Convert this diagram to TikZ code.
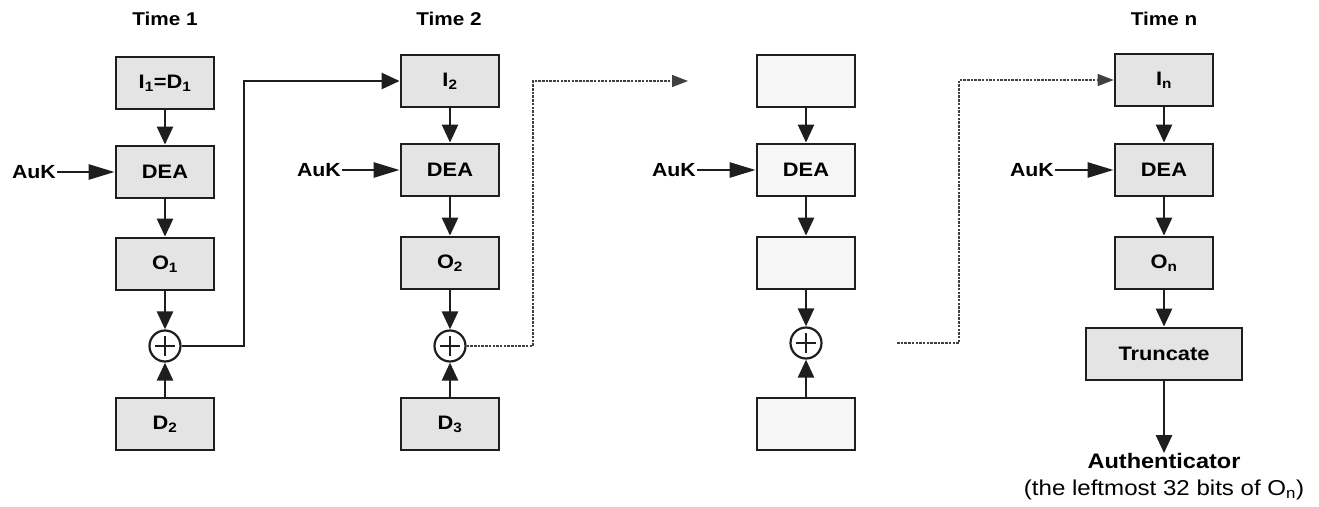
\documentclass[tikz,border=0pt]{standalone}
\usepackage{fontspec}
\setmainfont{Liberation Sans}[FakeStretch=1.12]
\usetikzlibrary{arrows.meta}
\definecolor{boxfill}{HTML}{E4E4E4}
\definecolor{lightfill}{HTML}{F6F6F6}
\definecolor{ink}{HTML}{1E1E1E}
\begin{document}
\begin{tikzpicture}[x=1pt,y=-1pt,
  blk/.style={draw=ink, line width=2.8pt, fill=boxfill, minimum width=98pt, minimum height=52pt,
    inner sep=0pt, font=\bfseries\fontsize{19.5}{22}\selectfont},
  lblk/.style={blk, fill=lightfill},
  xorn/.style={circle, draw=ink, line width=2.2pt, minimum size=31pt, inner sep=0pt,
    path picture={
      \draw[line width=2pt] ([xshift=-10pt]path picture bounding box.center) -- ([xshift=10pt]path picture bounding box.center);
      \draw[line width=2pt] ([yshift=-10pt]path picture bounding box.center) -- ([yshift=10pt]path picture bounding box.center);}},
  arr/.style={draw=ink, line width=2.6pt, -{Triangle[length=18pt,width=16pt]}},
  karr/.style={draw=ink, line width=2.6pt, -{Triangle[length=26pt,width=15pt]}},
  dline/.style={draw=ink!85, line width=1.5pt, dash pattern=on 2.5pt off 1.2pt},
  tlabel/.style={font=\bfseries\fontsize{18.5}{21}\selectfont},
  klabel/.style={font=\bfseries\fontsize{19}{21}\selectfont, inner sep=1pt, anchor=east}
]
\useasboundingbox (0,0) rectangle (1319,506);

% Time labels
\node[tlabel] (t1) at (165,19) {Time 1};
\node[tlabel] (t2) at (449,19) {Time 2};
\node[tlabel] (tn) at (1164,19) {Time n};

% Column 1
\node[blk] (i1) at (165,83) {I\textsubscript{1}=D\textsubscript{1}};
\node[blk] (d1) at (165,172) {DEA};
\node[blk] (o1) at (165,264) {O\textsubscript{1}};
\node[xorn] (x1) at (165,346) {};
\node[blk] (dd2) at (165,424) {D\textsubscript{2}};
\node[klabel] (k1) at (57,172) {AuK};

% Column 2
\node[blk] (i2) at (450,81) {I\textsubscript{2}};
\node[blk] (d2) at (450,170) {DEA};
\node[blk] (o2) at (450,263) {O\textsubscript{2}};
\node[xorn] (x2) at (450,346) {};
\node[blk] (dd3) at (450,424) {D\textsubscript{3}};
\node[klabel] (k2) at (342,170) {AuK};

% Column 3
\node[lblk] (i3) at (806,81) {};
\node[lblk] (d3) at (806,170) {DEA};
\node[lblk] (o3) at (806,263) {};
\node[xorn] (x3) at (806,343) {};
\node[lblk] (dd4) at (806,424) {};
\node[klabel] (k3) at (697,170) {AuK};

% Column n
\node[blk] (in) at (1164,80) {I\textsubscript{n}};
\node[blk] (dn) at (1164,170) {DEA};
\node[blk] (on) at (1164,263) {O\textsubscript{n}};
\node[blk, minimum width=156pt] (tr) at (1164,354) {Truncate};
\node[klabel] (kn) at (1055,170) {AuK};
\node[font=\bfseries\fontsize{21}{24}\selectfont, inner sep=0pt] (au) at (1164,461) {Authenticator};
\node[font=\fontsize{21.5}{24}\selectfont, inner sep=0pt] (desc) at (1164,490) {(the leftmost 32 bits of O\textsubscript{n})};

% vertical arrows
\foreach \a/\b in {i1/d1, d1/o1, o1/x1, dd2/x1, i2/d2, d2/o2, o2/x2, dd3/x2, i3/d3, d3/o3, o3/x3, dd4/x3, in/dn, dn/on, on/tr}
  \draw[arr] (\a) -- (\b);
\draw[arr] (tr.south) -- (au.north);

% key arrows
\foreach \a/\b in {k1/d1, k2/d2, k3/d3, kn/dn}
  \draw[karr] (\a.east) -- (\b.west);

% chaining connectors
\coordinate (c1) at (244,0);
\draw[arr] (x1.east) -| (c1 |- i2.west) -- (i2.west);

\coordinate (c2) at (533,0);
\coordinate (e2) at (688,81);
\draw[dline, -{Triangle[length=16pt,width=12pt]}] (x2.east) -| (c2 |- e2) -- (e2);

\coordinate (s3) at (897,343);
\coordinate (c3) at (959,0);
\draw[dline, -{Triangle[length=16pt,width=12pt]}] (s3) -| (c3 |- in.west) -- (in.west);
\end{tikzpicture}
\end{document}
